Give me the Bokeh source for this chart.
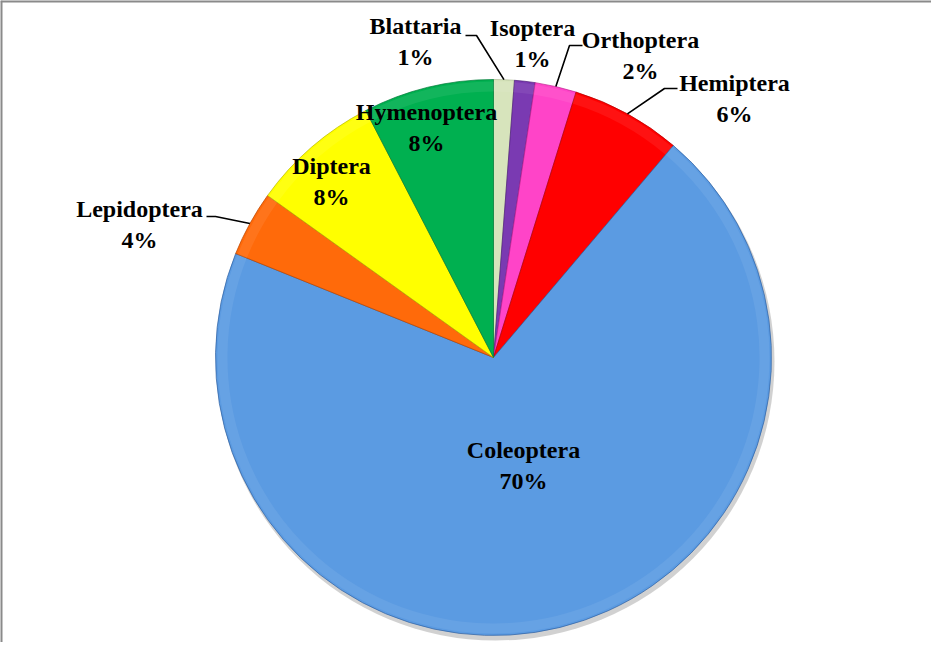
import math
from bokeh.plotting import figure
from bokeh.models import ColumnDataSource, Range1d, Span
from bokeh.core.properties import value
from bokeh.embed import file_html
from bokeh.resources import INLINE

# ---- data (clockwise from 12 o'clock) ----
orders = ["Blattaria", "Isoptera", "Orthoptera", "Hemiptera",
          "Coleoptera", "Lepidoptera", "Diptera", "Hymenoptera"]
shares = [1.2, 1.2, 2.4, 6.4, 69.9, 3.8, 7.5, 7.6]
colors = ["#D7E4BC", "#7A3AB2", "#FF44C8", "#FF0000",
          "#5B9BE2", "#FF6A0A", "#FFFF00", "#00B050"]
edge_colors = ["#A9B78F", "#4E1F7A", "#C02090", "#B00000",
               "#2F5F9F", "#B84400", "#B8B800", "#007A38"]

# ---- layout (pixels) ----
W, H = 931, 642
CX, CY = 493, 285          # pie centre in data (= pixel) units
R = 278
FONT = value("Liberation Serif")

# label centre offsets from pie centre (dx right, dy up), pixels
label_off = [(-78, 316), (39, 314), (147, 302), (241, 259),
             (30, -108), (-354, 133), (-162, 176), (-67, 230)]
# leader: (text-side start offset, elbow offset) or None
leaders = [((-28, 322), (-17, 322)), None, ((89, 312), (76, 312)),
           ((184, 269), (171, 269)), None, ((-287, 141), (-278, 141)),
           None, None]

total = float(sum(shares))
starts, ends, mids = [], [], []
cum = 0.0
for v in shares:
    a0 = cum / total * 2 * math.pi
    cum += v
    a1 = cum / total * 2 * math.pi
    # convert clockwise-from-top to bokeh (anticlockwise from +x)
    starts.append(math.pi / 2 - a1)
    ends.append(math.pi / 2 - a0)
    mids.append((a0 + a1) / 2)

src = ColumnDataSource(dict(
    start=starts, end=ends, color=colors, edge=edge_colors,
    x=[CX] * len(shares), y=[CY] * len(shares)))

p = figure(width=W, height=H, output_backend="svg", toolbar_location=None,
           x_range=Range1d(0, W), y_range=Range1d(0, H),
           x_axis_location=None, y_axis_location=None, min_border=0)
p.grid.visible = False
p.background_fill_color = "white"
p.border_fill_color = "white"
p.outline_line_color = None

# chart-area border: only top and left edges are visible in the reference
p.add_layout(Span(location=0, dimension="height", line_color="#8A8A8A",
                  line_width=4))
p.add_layout(Span(location=H, dimension="width", line_color="#8A8A8A",
                  line_width=4))

# soft shadow
p.circle(x=[CX + 2], y=[CY - 4], radius=R + 1, fill_color="#000000",
         fill_alpha=0.18, line_color=None)

p.wedge(x="x", y="y", radius=R, start_angle="start", end_angle="end",
        fill_color="color", line_color="edge", line_width=1, line_alpha=0.7,
        source=src)
# subtle inner highlight ring (bevel impression)
p.annular_wedge(x="x", y="y", inner_radius=R - 12, outer_radius=R - 2,
                start_angle="start", end_angle="end", fill_color="white",
                fill_alpha=0.07, line_color=None, source=src)

# leader lines
for i, ld in enumerate(leaders):
    if ld is None:
        continue
    (sx, sy), (ex, ey) = ld
    rx = CX + R * math.sin(mids[i])
    ry = CY + R * math.cos(mids[i])
    p.line([CX + sx, CX + ex, rx], [CY + sy, CY + ey, ry],
           line_color="black", line_width=1.6)

# labels
lx = [CX + dx for dx, dy in label_off]
ly = [CY + dy for dx, dy in label_off]
texts = [f"{n}\n{int(v + 0.5)}%" for n, v in zip(orders, shares)]
p.text(x=lx, y=ly, text=texts, text_font=FONT, text_font_style="bold",
       text_font_size="24px", text_align="center", text_baseline="middle",
       text_line_height=1.17, text_color="black")

open("out.html", "w").write(file_html(p, INLINE))
